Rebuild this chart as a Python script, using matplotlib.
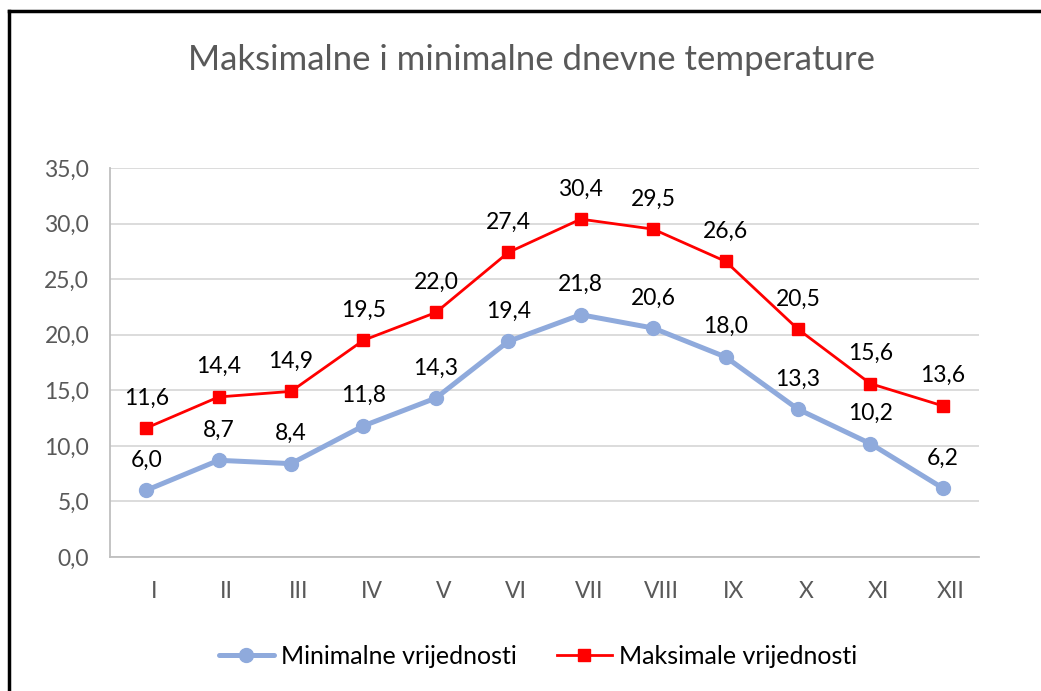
import matplotlib
matplotlib.use("Agg")
import matplotlib.pyplot as plt
import matplotlib.transforms as mtransforms
from matplotlib.lines import Line2D

months = ["I", "II", "III", "IV", "V", "VI", "VII", "VIII", "IX", "X", "XI", "XII"]
min_vals = [6.0, 8.7, 8.4, 11.8, 14.3, 19.4, 21.8, 20.6, 18.0, 13.3, 10.2, 6.2]
max_vals = [11.6, 14.4, 14.9, 19.5, 22.0, 27.4, 30.4, 29.5, 26.6, 20.5, 15.6, 13.6]
yticks = [0, 5, 10, 15, 20, 25, 30, 35]

plt.rcParams['font.family'] = ['Lato', 'DejaVu Sans']

W, H = 1041, 691
fig = plt.figure(figsize=(W / 100, H / 100), dpi=100)
ax = fig.add_axes([110 / W, 1 - 557 / H, 869 / W, 389 / H])

x = list(range(len(months)))
min_col = "#8FAADC"
max_col = "#FF0000"

ax.plot(x, min_vals, color=min_col, lw=3.6, marker="o", ms=10, solid_capstyle="round",
        label="Minimalne vrijednosti", zorder=3)
ax.plot(x, max_vals, color=max_col, lw=2.0, marker="s", ms=8,
        label="Maksimale vrijednosti", zorder=4)

def fmt(v):
    return f"{v:.1f}".replace(".", ",")

for xi, v in zip(x, min_vals):
    ax.annotate(fmt(v), (xi, v), xytext=(0, 17), textcoords="offset points",
                ha="center", va="baseline", fontsize=16.5, color="#000000")
for xi, v in zip(x, max_vals):
    ax.annotate(fmt(v), (xi, v), xytext=(0, 17), textcoords="offset points",
                ha="center", va="baseline", fontsize=16.5, color="#000000")

ax.set_xlim(-0.5, len(months) - 0.5)
ax.set_ylim(0, 35)
ax.set_yticks(yticks)
ax.set_yticklabels([fmt(v) for v in yticks])
ax.set_xticks(x)
ax.set_xticklabels(months)
ax.tick_params(axis="both", length=0, labelsize=16.5, colors="#595959")
ax.tick_params(axis="y", pad=15)
ax.tick_params(axis="x", pad=17)
shift = mtransforms.ScaledTranslation(8 / 100, 0, fig.dpi_scale_trans)
for lbl in ax.get_xticklabels():
    lbl.set_transform(lbl.get_transform() + shift)
ax.grid(axis="y", color="#D9D9D9", lw=1.3)
ax.set_axisbelow(True)
for s in ["top", "right"]:
    ax.spines[s].set_visible(False)
ax.spines["left"].set_color("#BFBFBF")
ax.spines["bottom"].set_color("#BFBFBF")
ax.spines["left"].set_linewidth(1.3)
ax.spines["bottom"].set_linewidth(1.3)

fig.text(531 / W, 1 - 60 / H, "Maksimalne i minimalne dnevne temperature",
         ha="center", va="center", fontsize=25, color="#595959")

leg = fig.legend(loc="center", bbox_to_anchor=(538 / W, 1 - 656 / H), ncol=2,
                 frameon=False, fontsize=18, handlelength=2.2, columnspacing=1.6,
                 handletextpad=0.3)
for t in leg.get_texts():
    t.set_color("#000000")

# frame border (top and left visible)
fig.add_artist(Line2D([9 / W, 1], [1 - 11 / H, 1 - 11 / H], color="black", lw=2.5,
                      transform=fig.transFigure))
fig.add_artist(Line2D([9 / W, 9 / W], [0, 1 - 11 / H], color="black", lw=2.5,
                      transform=fig.transFigure))

fig.savefig("out.png", dpi=100)
